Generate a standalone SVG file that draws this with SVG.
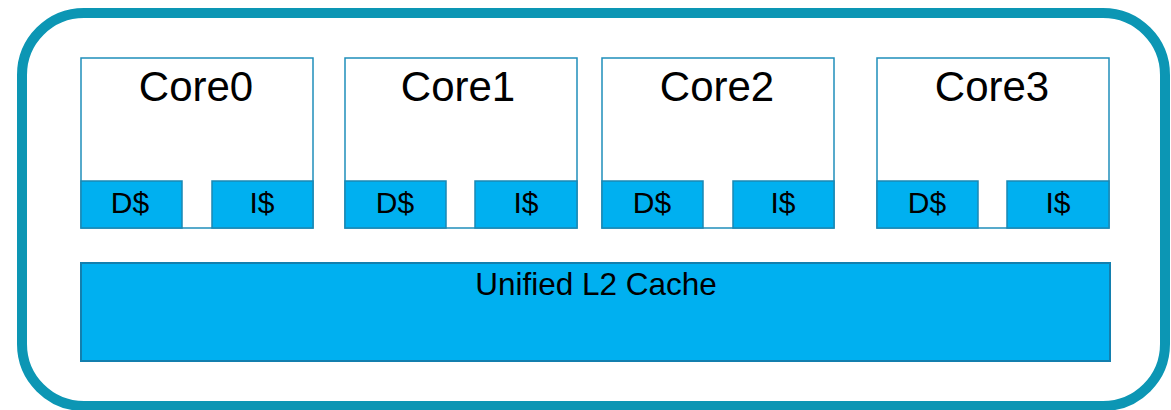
<svg xmlns="http://www.w3.org/2000/svg" width="1171" height="410" viewBox="0 0 1171 410">
<style>
.frame{fill:#ffffff;stroke:#0C96B4;stroke-width:10}
.core{fill:#ffffff;stroke:#1F8EBB;stroke-width:1.5}
.cache{fill:#00B0F0;stroke:#1A88B4;stroke-width:1.5}
.l2{fill:#00B0F0;stroke:#137FAE;stroke-width:2}
text{font-family:"Liberation Sans",Arial,sans-serif;fill:#000000;text-anchor:middle}
.t1{font-size:42px}
.t2{font-size:30px}
.t3{font-size:31.5px}
</style>
<rect width="1171" height="410" fill="#ffffff"/>
<g id="chip">
<rect class="frame" x="22" y="13" width="1143" height="393" rx="62" ry="62"/>
</g>
<g id="core0">
<rect class="core" x="81" y="58" width="232" height="170"/>
<text class="t1" x="196" y="101">Core0</text>
<rect class="cache" x="81" y="181" width="101" height="47"/>
<text class="t2" x="130" y="213">D$</text>
<rect class="cache" x="212" y="181" width="101" height="47"/>
<text class="t2" x="262" y="213">I$</text>
</g>
<g id="core1">
<rect class="core" x="345" y="58" width="232" height="170"/>
<text class="t1" x="458" y="101">Core1</text>
<rect class="cache" x="345" y="181" width="101" height="47"/>
<text class="t2" x="395" y="213">D$</text>
<rect class="cache" x="475" y="181" width="102" height="47"/>
<text class="t2" x="526" y="213">I$</text>
</g>
<g id="core2">
<rect class="core" x="602" y="58" width="232" height="170"/>
<text class="t1" x="717" y="101">Core2</text>
<rect class="cache" x="602" y="181" width="101" height="47"/>
<text class="t2" x="652" y="213">D$</text>
<rect class="cache" x="733" y="181" width="101" height="47"/>
<text class="t2" x="783" y="213">I$</text>
</g>
<g id="core3">
<rect class="core" x="877" y="58" width="232" height="170"/>
<text class="t1" x="992" y="101">Core3</text>
<rect class="cache" x="877" y="181" width="101" height="47"/>
<text class="t2" x="927" y="213">D$</text>
<rect class="cache" x="1007" y="181" width="102" height="47"/>
<text class="t2" x="1058" y="213">I$</text>
</g>
<g id="l2cache">
<rect class="l2" x="81" y="263" width="1029" height="98"/>
<text class="t3" x="596" y="295">Unified L2 Cache</text>
</g>
<g id="connectors"></g>
</svg>
